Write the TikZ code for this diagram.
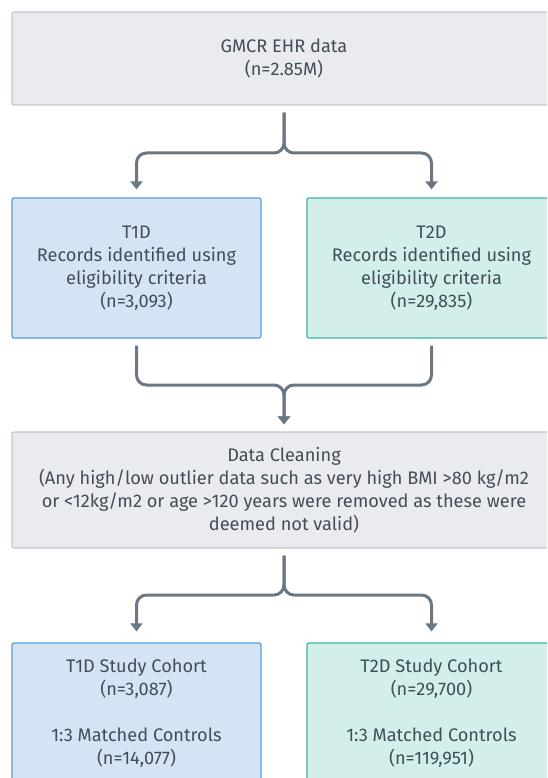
\documentclass[tikz,border=0pt]{standalone}
\usepackage{fontspec}
\setmainfont{Fira Sans}
\usetikzlibrary{arrows.meta}
\definecolor{txt}{HTML}{424D58}
\definecolor{grayfill}{HTML}{E9EBEE}
\definecolor{grayline}{HTML}{C3C8CE}
\definecolor{bluefill}{HTML}{D5E4F5}
\definecolor{blueline}{HTML}{5A9BDC}
\definecolor{tealfill}{HTML}{D3EFEC}
\definecolor{tealline}{HTML}{3DB59F}
\definecolor{arrowc}{HTML}{6B7884}
\tikzset{
  box/.style={rectangle, rounded corners=2pt, line width=1.2pt, align=center,
    text=txt, font=\fontsize{18.2}{23}\selectfont, inner sep=0pt},
  graybox/.style={box, fill=grayfill, draw=grayline},
  bluebox/.style={box, fill=bluefill, draw=blueline},
  tealbox/.style={box, fill=tealfill, draw=tealline},
  link/.style={draw=arrowc, line width=3pt, rounded corners=10pt},
  tip/.style={-{Triangle[width=12pt,length=8pt]}}
}
\begin{document}
\begin{tikzpicture}[x=1pt,y=-1pt]
\useasboundingbox (0,0) rectangle (547,778);
\clip (0,0) rectangle (547,778);
\fill[white] (0,0) rectangle (547,778);

\node[graybox, minimum width=544pt, minimum height=93pt] (top) at (284,58.5)
  {GMCR EHR data\\(n=2.85M)};
\node[bluebox, minimum width=249pt, minimum height=140pt] (t1) at (136.5,268)
  {T1D\\Records identified using\\eligibility criteria\\(n=3,093)};
\node[tealbox, minimum width=249pt, minimum height=140pt] (t2) at (431.5,268)
  {T2D\\Records identified using\\eligibility criteria\\(n=29,835)};
\node[graybox, minimum width=544pt, minimum height=116pt] (clean) at (284,490)
  {Data Cleaning\\(Any high/low outlier data such as very high BMI >80 kg/m2\\or <12kg/m2 or age >120 years were removed as these were\\deemed not valid)};
\node[bluebox, minimum width=249pt, minimum height=141pt] (c1) at (136.5,713.5)
  {T1D Study Cohort\\(n=3,087)\\[23pt]1:3 Matched Controls\\(n=14,077)};
\node[tealbox, minimum width=249pt, minimum height=141pt] (c2) at (431.5,713.5)
  {T2D Study Cohort\\(n=29,700)\\[23pt]1:3 Matched Controls\\(n=119,951)};

\coordinate (s1) at (284,153);
\coordinate (m1) at (284,385);
\coordinate (s2) at (284,595);

\draw[link,tip] ([yshift=-7pt]top.south) -- (s1) -| ([yshift=8pt]t1.north);
\draw[link,tip] ([yshift=-7pt]top.south) -- (s1) -| ([yshift=8pt]t2.north);
\draw[link,tip] ([yshift=-7pt]t1.south) |- (m1) -- ([yshift=7pt]clean.north);
\draw[link,tip] ([yshift=-7pt]t2.south) |- (m1) -- ([yshift=7pt]clean.north);
\draw[link,tip] ([yshift=-7pt]clean.south) -- (s2) -| ([yshift=11pt]c1.north);
\draw[link,tip] ([yshift=-7pt]clean.south) -- (s2) -| ([yshift=11pt]c2.north);
\end{tikzpicture}
\end{document}
